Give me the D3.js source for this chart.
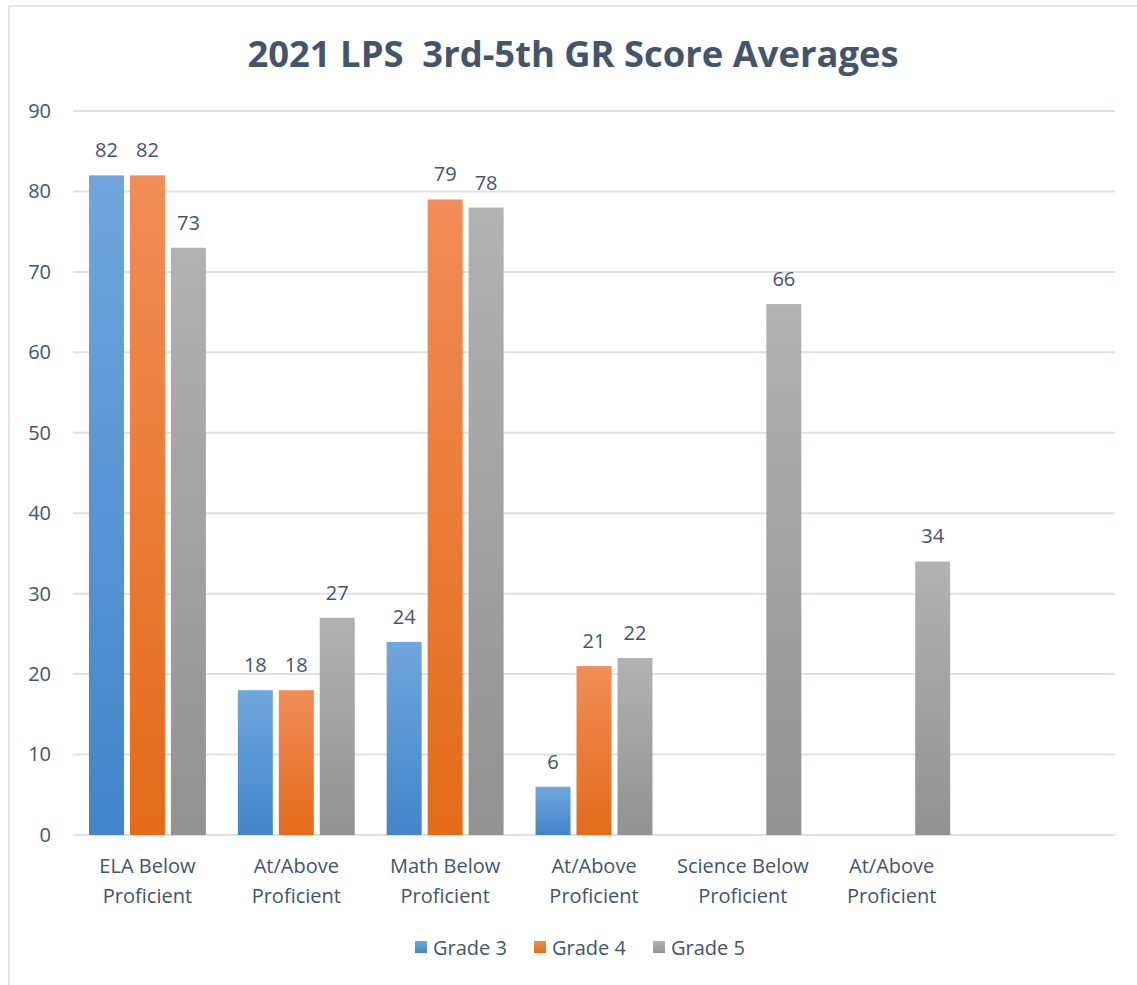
<!DOCTYPE html>
<html>
<head>
<meta charset="utf-8">
<script src="https://cdn.jsdelivr.net/npm/d3@7"></script>
<style>
  body { margin: 0; background: #fff; }
  text { font-family: "Open Sans", "Noto Sans", sans-serif; fill: #44546a; }
</style>
</head>
<body>
<div id="chart"></div>
<script>
// chart data
var categories = [
  ['ELA Below', 'Proficient'],
  ['At/Above', 'Proficient'],
  ['Math Below', 'Proficient'],
  ['At/Above', 'Proficient'],
  ['Science Below', 'Proficient'],
  ['At/Above', 'Proficient'],
  ['', '']
];
var seriesNames = ['Grade 3', 'Grade 4', 'Grade 5'];
var grade3 = [82, 18, 24, 6, null, null, null];
var grade4 = [82, 18, 79, 21, null, null, null];
var grade5 = [73, 27, 78, 22, 66, 34, null];
var yTicks = [0, 10, 20, 30, 40, 50, 60, 70, 80, 90];

var series = [grade3, grade4, grade5];
var colors = [
  { top: '#70a6dd', bottom: '#4285c9' },
  { top: '#f18d56', bottom: '#e36b1a' },
  { top: '#b2b2b2', bottom: '#929292' }
];

var W = 1137, H = 985;
var plotLeft = 73, plotRight = 1115, plotTop = 111, plotBottom = 835;

var svg = d3.select('#chart').append('svg')
    .attr('width', W)
    .attr('height', H);

// gradients for the bars
var defs = svg.append('defs');
colors.forEach(function (c, i) {
  var g = defs.append('linearGradient')
      .attr('id', 'grad' + i)
      .attr('x1', 0).attr('y1', 0).attr('x2', 0).attr('y2', 1);
  g.append('stop').attr('offset', '0%').attr('stop-color', c.top);
  g.append('stop').attr('offset', '100%').attr('stop-color', c.bottom);
});

// outer chart border
svg.append('rect')
    .attr('x', 9).attr('y', 6)
    .attr('width', W + 20).attr('height', H + 20)
    .attr('fill', '#fff')
    .attr('stroke', '#e3e6ec')
    .attr('stroke-width', 2);

var x = d3.scaleBand()
    .domain(d3.range(categories.length))
    .range([plotLeft, plotRight]);

var y = d3.scaleLinear()
    .domain([0, 90])
    .range([plotBottom, plotTop]);

var sub = d3.scaleBand()
    .domain(d3.range(series.length))
    .range([0, x.bandwidth()])
    .paddingInner(0.146)
    .paddingOuter(0.39);

// gridlines
svg.append('g')
    .selectAll('line')
    .data(yTicks)
    .join('line')
    .attr('x1', plotLeft).attr('x2', plotRight)
    .attr('y1', function (d) { return y(d); })
    .attr('y2', function (d) { return y(d); })
    .attr('stroke', '#dde1e8')
    .attr('stroke-width', 2);

// y axis labels
var yAxis = d3.axisLeft(y).tickValues(yTicks).tickSize(0).tickPadding(0);
var ya = svg.append('g')
    .attr('transform', 'translate(51,0)')
    .call(yAxis);
ya.select('.domain').remove();
ya.selectAll('text')
    .attr('font-size', 20)
    .attr('fill', '#44546a')
    .style('font-family', '"Open Sans", sans-serif');

// bars
series.forEach(function (vals, si) {
  var g = svg.append('g');
  var pts = vals.map(function (v, i) { return { i: i, v: v }; })
      .filter(function (d) { return d.v != null; });
  g.selectAll('rect')
      .data(pts)
      .join('rect')
      .attr('x', function (d) { return x(d.i) + sub(si); })
      .attr('y', function (d) { return y(d.v); })
      .attr('width', sub.bandwidth())
      .attr('height', function (d) { return y(0) - y(d.v); })
      .attr('fill', 'url(#grad' + si + ')');
  g.selectAll('text')
      .data(pts)
      .join('text')
      .attr('x', function (d) { return x(d.i) + sub(si) + sub.bandwidth() / 2; })
      .attr('y', function (d) { return y(d.v) - 18; })
      .attr('text-anchor', 'middle')
      .attr('font-size', 20)
      .text(function (d) { return d.v; });
});

// category labels
var cat = svg.append('g')
    .selectAll('text')
    .data(categories)
    .join('text')
    .attr('text-anchor', 'middle')
    .attr('font-size', 20);
cat.each(function (lines, i) {
  var t = d3.select(this);
  lines.forEach(function (l, k) {
    t.append('tspan')
        .attr('x', x(i) + x.bandwidth() / 2)
        .attr('y', 873 + k * 30)
        .text(l);
  });
});

// title
svg.append('text')
    .attr('x', 573)
    .attr('y', 67)
    .attr('text-anchor', 'middle')
    .attr('font-size', 35)
    .attr('font-weight', 'bold')
    .attr('textLength', 651)
    .attr('lengthAdjust', 'spacingAndGlyphs')
    .style('white-space', 'pre')
    .text('2021 LPS  3rd-5th GR Score Averages');

// legend
var legend = svg.append('g')
    .selectAll('g')
    .data(seriesNames)
    .join('g')
    .attr('transform', function (d, i) { return 'translate(' + (415 + i * 119) + ',941)'; });
legend.append('rect')
    .attr('width', 12).attr('height', 12)
    .attr('fill', function (d, i) { return 'url(#grad' + i + ')'; });
legend.append('text')
    .attr('x', 18).attr('y', 14)
    .attr('font-size', 20)
    .text(function (d) { return d; });
</script>
</body>
</html>
